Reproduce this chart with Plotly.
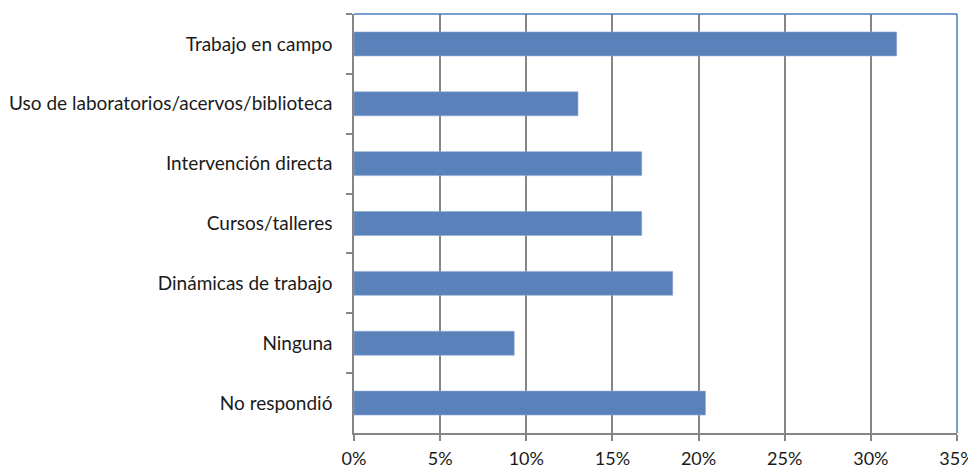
import plotly.graph_objs as go

categories = [
    'Trabajo en campo',
    'Uso de laboratorios/acervos/biblioteca',
    'Intervención directa',
    'Cursos/talleres',
    'Dinámicas de trabajo',
    'Ninguna',
    'No respondió',
]
values = [31.5, 13.0, 16.7, 16.7, 18.5, 9.3, 20.4]
x_ticks = [0, 5, 10, 15, 20, 25, 30, 35]
x_tick_labels = [f'{t}%' for t in x_ticks]

bar_color = '#5981BA'
axis_gray = '#868686'
border_blue = '#4A7EBB'

fig = go.Figure()

fig.add_trace(
    go.Bar(
        x=values,
        y=categories,
        orientation='h',
        marker=dict(color=bar_color, line=dict(color='#8FA9D3', width=0.6)),
        width=0.4,
        showlegend=False,
    )
)

# the page body has an 8px margin, so the figure is a bit smaller than the window
fig.update_layout(
    width=968,
    height=461,
    margin=dict(l=346, r=19, t=6, b=36),
    paper_bgcolor='white',
    plot_bgcolor='white',
    font=dict(family='Lato, Open Sans, sans-serif', size=19, color='#1a1a1a'),
    xaxis=dict(
        range=[0, 35],
        tickvals=x_ticks,
        ticktext=x_tick_labels,
        tickfont=dict(size=18),
        showgrid=True,
        gridcolor=axis_gray,
        gridwidth=1.5,
        showline=True,
        linecolor=axis_gray,
        linewidth=1.5,
        ticks='outside',
        ticklen=6,
        tickcolor=axis_gray,
        tickwidth=1.5,
        ticklabelstandoff=3,
        ticklabeloverflow='allow',
        zeroline=False,
        automargin=False,
        fixedrange=True,
    ),
    yaxis=dict(
        autorange='reversed',
        showgrid=False,
        showline=True,
        linecolor=axis_gray,
        linewidth=1.5,
        ticks='outside',
        tickson='boundaries',
        ticklen=6,
        tickcolor=axis_gray,
        tickwidth=1.5,
        ticklabelstandoff=16,
        automargin=False,
        fixedrange=True,
    ),
)

# blue frame on the top and right side of the plot area
fig.add_shape(type='line', xref='paper', yref='paper', x0=0, x1=1, y0=1, y1=1,
              line=dict(color=border_blue, width=1.5))
fig.add_shape(type='line', xref='paper', yref='paper', x0=1, x1=1, y0=0, y1=1,
              line=dict(color=border_blue, width=1.5))

fig.write_html('out.html')
